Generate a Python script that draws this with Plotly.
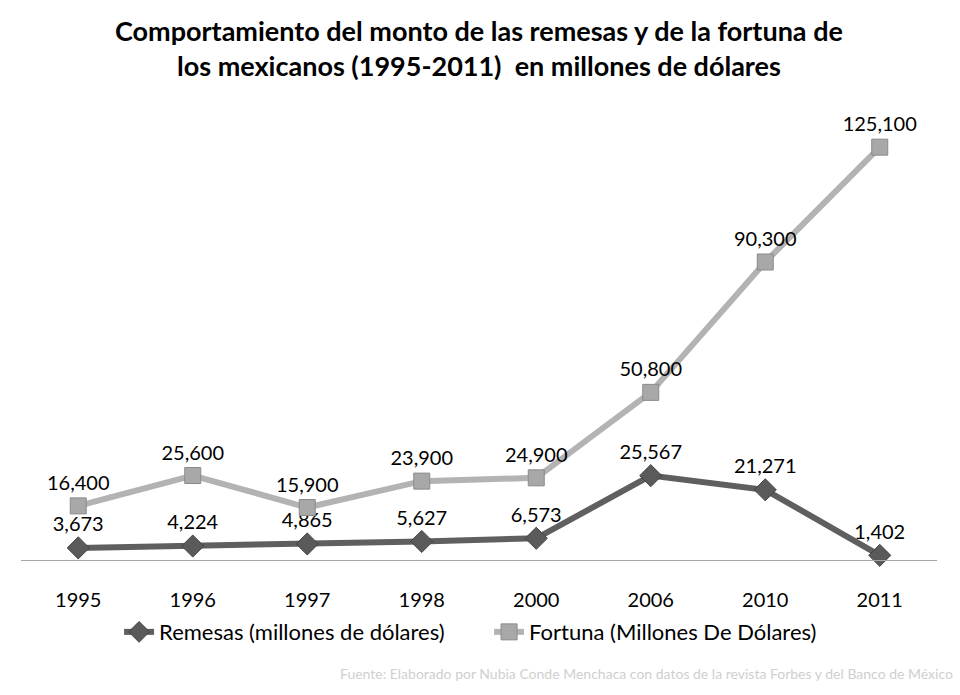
import plotly.graph_objects as go

years = ["1995", "1996", "1997", "1998", "2000", "2006", "2010", "2011"]
remesas = [3673, 4224, 4865, 5627, 6573, 25567, 21271, 1402]
fortuna = [16400, 25600, 15900, 23900, 24900, 50800, 90300, 125100]

fig = go.Figure()
fig.add_trace(go.Scatter(
    x=years, y=remesas, name="Remesas (millones de dólares)",
    mode="lines+markers+text",
    line=dict(color="#5f5f5f", width=6),
    marker=dict(symbol="diamond", size=17, color="#5a5a5a", line=dict(color="#444444", width=1)),
    text=[f"{v:,}" for v in remesas], textposition="top center",
    textfont=dict(family="Lato, sans-serif", size=20, color="#000000"),
    cliponaxis=False,
))
fig.add_trace(go.Scatter(
    x=years, y=fortuna, name="Fortuna (Millones De Dólares)",
    mode="lines+markers+text",
    line=dict(color="#b3b3b3", width=6),
    marker=dict(symbol="square", size=16, color="#a8a8a8", line=dict(color="#8a8a8a", width=1)),
    text=[f"{v:,}" for v in fortuna], textposition="top center",
    textfont=dict(family="Lato, sans-serif", size=20, color="#000000"),
    cliponaxis=False,
))

fig.update_layout(
    width=960, height=695,
    paper_bgcolor="white", plot_bgcolor="white",
    margin=dict(l=21, r=23, t=98, b=135),
    xaxis=dict(
        type="category", range=[-0.5, 7.5], showgrid=False, showline=True,
        linecolor="#a6a6a6", linewidth=1, ticks="", zeroline=False,
        ticklabelstandoff=22,
        tickfont=dict(family="Lato, sans-serif", size=20, color="#000000"),
    ),
    yaxis=dict(range=[0, 140000], visible=False, showgrid=False, zeroline=False),
    legend=dict(
        orientation="h", x=0.511, xanchor="center", y=-0.156, yanchor="middle",
        font=dict(family="Lato, sans-serif", size=22, color="#000000"),
        itemwidth=30, tracegroupgap=0,
        entrywidth=325, entrywidthmode="pixels",
    ),
    showlegend=True,
)
fig.add_annotation(
    text="<b>Comportamiento del monto de las remesas y de la fortuna de<br>los mexicanos (1995-2011)  en millones de dólares</b>",
    xref="paper", yref="paper", x=0.5, y=(560 - 12) / 462, xanchor="center", yanchor="top",
    showarrow=False, align="center",
    font=dict(family="Lato, sans-serif", size=27, color="#000000"),
)
fig.add_annotation(
    text="Fuente: Elaborado por Nubia Conde Menchaca con datos de la revista Forbes y del Banco de México",
    xref="paper", yref="paper", x=1.02, y=-0.245, xanchor="right", yanchor="middle",
    showarrow=False, font=dict(family="Lato, sans-serif", size=14, color="#cfcfcf"),
)
fig.write_html("out.html")
